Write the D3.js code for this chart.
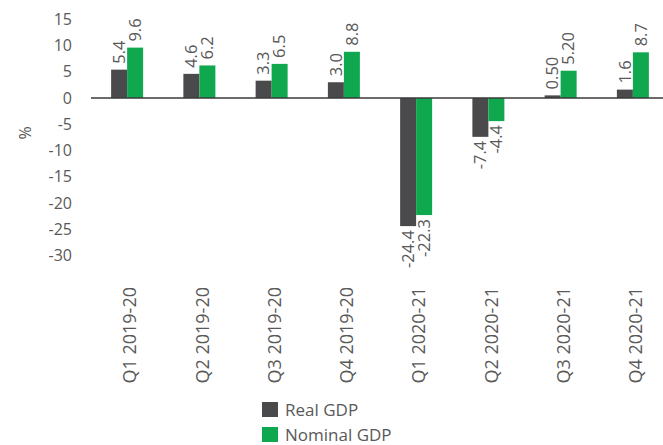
<!DOCTYPE html>
<html>
<head>
<meta charset="utf-8">
<script src="https://cdn.jsdelivr.net/npm/d3@7"></script>
<style>
  body { margin: 0; background: #fff; }
  text { font-family: "Open Sans", "Noto Sans", sans-serif; fill: #595959; }
</style>
</head>
<body>
<div id="chart"></div>
<script>
var quarters = ["Q1 2019-20", "Q2 2019-20", "Q3 2019-20", "Q4 2019-20",
                "Q1 2020-21", "Q2 2020-21", "Q3 2020-21", "Q4 2020-21"];
var realGdp = [5.4, 4.6, 3.3, 3.0, -24.4, -7.4, 0.5, 1.6];
var nominalGdp = [9.6, 6.2, 6.5, 8.8, -22.3, -4.4, 5.2, 8.7];
var realLabels = ["5.4", "4.6", "3.3", "3.0", "-24.4", "-7.4", "0.50", "1.6"];
var nominalLabels = ["9.6", "6.2", "6.5", "8.8", "-22.3", "-4.4", "5.20", "8.7"];
var yTicks = [15, 10, 5, 0, -5, -10, -15, -20, -25, -30];
var seriesNames = ["Real GDP", "Nominal GDP"];
var colors = ["#4a4a4c", "#0fa84e"];

var width = 663, height = 445;
var svg = d3.select("#chart").append("svg")
  .attr("width", width).attr("height", height);

var y = d3.scaleLinear().domain([-30, 15]).range([255.5, 19.25]);
var x = d3.scaleBand().domain(quarters).range([91, 669]);
var inner = d3.scaleBand().domain([0, 1]).range([-16, 16]);

// y tick labels
svg.append("g").selectAll("text")
  .data(yTicks).enter().append("text")
  .attr("x", 72).attr("y", function(d) { return y(d); })
  .attr("dy", "0.35em")
  .attr("text-anchor", "end")
  .style("font-size", "16px")
  .text(function(d) { return d; });

svg.append("text")
  .attr("transform", "translate(25,133) rotate(-90)")
  .attr("text-anchor", "middle")
  .attr("dy", "0.35em")
  .style("font-size", "16px")
  .text("%");

var series = [realGdp, nominalGdp];
var labels = [realLabels, nominalLabels];

series.forEach(function(vals, s) {
  var g = svg.append("g");
  g.selectAll("rect").data(vals).enter().append("rect")
    .attr("x", function(d, i) { return x(quarters[i]) + x.bandwidth() / 2 + inner(s); })
    .attr("width", inner.bandwidth())
    .attr("y", function(d) { return y(Math.max(0, d)); })
    .attr("height", function(d) { return Math.abs(y(d) - y(0)); })
    .attr("fill", colors[s]);

  g.selectAll("text").data(vals).enter().append("text")
    .attr("transform", function(d, i) {
      var cx = x(quarters[i]) + x.bandwidth() / 2 + inner(s) + inner.bandwidth() / 2;
      var cy = d >= 0 ? y(d) - 6 : y(d) + 4;
      return "translate(" + cx + "," + cy + ") rotate(-90)";
    })
    .attr("text-anchor", function(d) { return d >= 0 ? "start" : "end"; })
    .attr("dy", "0.35em")
    .style("font-size", "16.5px")
    .text(function(d, i) { return labels[s][i]; });
});

// zero line
svg.append("line")
  .attr("x1", 91).attr("x2", 663)
  .attr("y1", y(0)).attr("y2", y(0))
  .attr("stroke", "#3a3a3a").attr("stroke-width", 1.5);

// category labels
svg.append("g").selectAll("text")
  .data(quarters).enter().append("text")
  .attr("transform", function(d) {
    return "translate(" + (x(d) + x.bandwidth() / 2 + 3) + ",287) rotate(-90)";
  })
  .attr("text-anchor", "end")
  .attr("dy", "0.35em")
  .style("font-size", "18px")
  .text(function(d) { return d; });

// legend
var legend = svg.append("g").selectAll("g")
  .data(seriesNames).enter().append("g")
  .attr("transform", function(d, i) { return "translate(262," + (402 + i * 25) + ")"; });
legend.append("rect")
  .attr("width", 16).attr("height", 15)
  .attr("fill", function(d, i) { return colors[i]; });
legend.append("text")
  .attr("x", 23).attr("y", 8).attr("dy", "0.35em")
  .style("font-size", "17px")
  .text(function(d) { return d; });
</script>
</body>
</html>
